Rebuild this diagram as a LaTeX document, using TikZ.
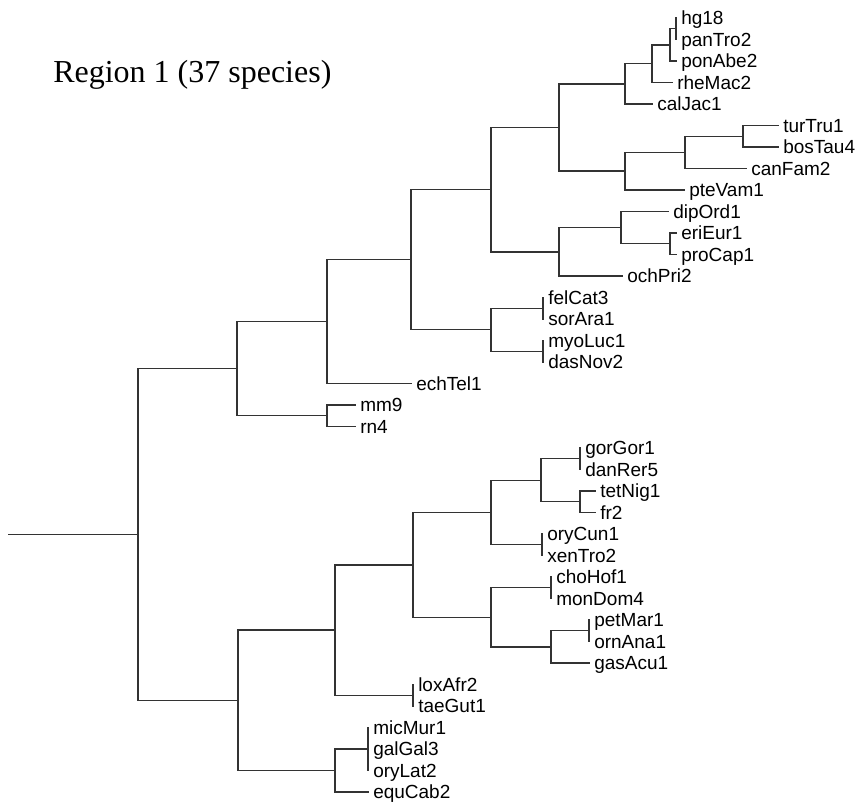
\documentclass[tikz,border=0pt]{standalone}
\usepackage{fontspec}
\setmainfont{Liberation Serif}
\setsansfont{Liberation Sans}
\usetikzlibrary{calc}
\tikzset{
  edge/.style={draw=black!80, line width=1.1pt, line cap=rect},
  lab/.style={anchor=base west, inner sep=0pt, font=\sffamily\fontsize{14.25}{17}\selectfont, text=black},
  ttl/.style={anchor=base west, inner sep=0pt, font=\rmfamily\fontsize{24}{28}\selectfont, text=black}
}
\begin{document}
\begin{tikzpicture}[x=0.75pt, y=-0.75pt]
\useasboundingbox (0,0) rectangle (861,803);
\node[ttl] (title) at (53,82) {Region 1 (37 species)};
% tips
\foreach \n/\x/\y in {hg18/676/18, panTro2/676/39.5, ponAbe2/676/61, rheMac2/672/82.5, calJac1/652/104,
  turTru1/778/125.5, bosTau4/778/147, canFam2/746/168.5, pteVam1/684/190, dipOrd1/668/211.5,
  eriEur1/676/233, proCap1/676/254.5, ochPri2/622/276, felCat3/543/297.5, sorAra1/543/319,
  myoLuc1/543/340.5, dasNov2/543/362, echTel1/411/383.5, mm9/355/405, rn4/355/426.5,
  gorGor1/580/448, danRer5/580/469.5, tetNig1/595/491, fr2/595/512.5, oryCun1/542/534,
  xenTro2/542/555.5, choHof1/551/577, monDom4/551/598.5, petMar1/589/620, ornAna1/589/641.5,
  gasAcu1/589/663, loxAfr2/413/684.5, taeGut1/413/706, micMur1/368/727.5, galGal3/368/749,
  oryLat2/368/770.5, equCab2/368/792}
{
  \coordinate (\n) at (\x,\y);
  \node[lab] (l-\n) at ($(\n)+(5,6.9)$) {\n};
}
% internal nodes
\foreach \n/\x/\y in {n1/676/28.75, n2/670/44.9, n3/652/63.7, n4/625/83.85, n5/743/136.25,
  n6/685/152.4, n7/625/171.2, n8/559/127.5, n9/670/243.75, n10/621/227.6, n11/559/251.8,
  n12/491/189.7, n13/543/308.25, n14/543/351.25, n15/491/329.75, n16/411/259.7, n17/327/321.6,
  n18/327/415.75, n19/237/368.7, n20/580/458.75, n21/580/501.75, n22/541/480.25, n23/542/544.75,
  n24/491/512.5, n25/551/587.75, n26/589/630.75, n27/551/646.9, n28/491/617.3, n29/413/564.9,
  n30/413/695.25, n31/335/630.1, n32/368/749, n33/335/770.5, n34/238/700.3, root/138/534.5}
{ \coordinate (\n) at (\x,\y); }
\coordinate (stem) at (9,534.5);
\draw[edge] (stem) -- (root);
\foreach \p/\c in {n1/hg18, n1/panTro2, n2/n1, n2/ponAbe2, n3/n2, n3/rheMac2, n4/n3, n4/calJac1,
  n5/turTru1, n5/bosTau4, n6/n5, n6/canFam2, n7/n6, n7/pteVam1, n8/n4, n8/n7,
  n9/eriEur1, n9/proCap1, n10/dipOrd1, n10/n9, n11/n10, n11/ochPri2, n12/n8, n12/n11,
  n13/felCat3, n13/sorAra1, n14/myoLuc1, n14/dasNov2, n15/n13, n15/n14, n16/n12, n16/n15,
  n17/n16, n17/echTel1, n18/mm9, n18/rn4, n19/n17, n19/n18,
  n20/gorGor1, n20/danRer5, n21/tetNig1, n21/fr2, n22/n20, n22/n21, n23/oryCun1, n23/xenTro2,
  n24/n22, n24/n23, n25/choHof1, n25/monDom4, n26/petMar1, n26/ornAna1, n27/n26, n27/gasAcu1,
  n28/n25, n28/n27, n29/n24, n29/n28, n30/loxAfr2, n30/taeGut1, n31/n29, n31/n30,
  n32/micMur1, n32/galGal3, n32/oryLat2, n33/n32, n33/equCab2, n34/n31, n34/n33,
  root/n19, root/n34}
{ \draw[edge] (\p) |- (\c); }
\end{tikzpicture}
\end{document}
